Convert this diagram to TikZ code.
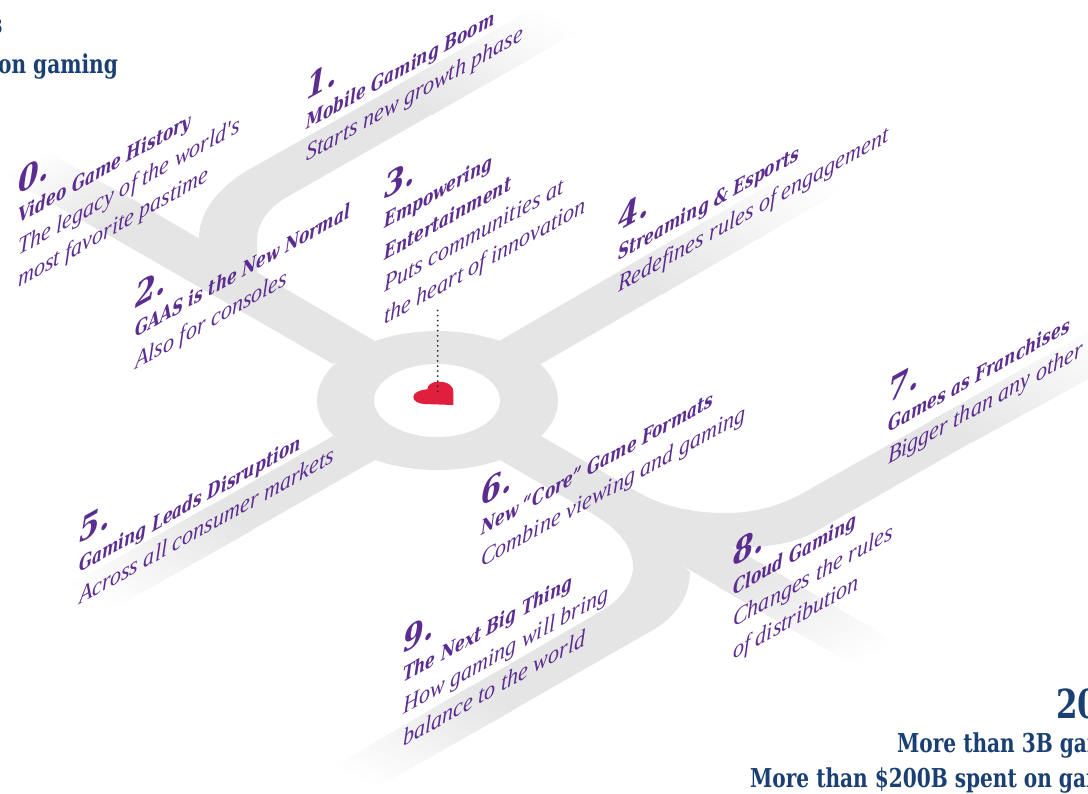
\documentclass[tikz,border=0pt]{standalone}
\usepackage{fontspec}
\usetikzlibrary{calc}
\setmainfont{DejaVu Serif Condensed}
\newfontfamily\slabfont[FakeStretch=0.86]{DejaVu Serif Condensed}
\newfontfamily\lightfont[FakeStretch=0.92]{Liberation Serif}
\definecolor{roadgray}{HTML}{E5E5E5}
\definecolor{itempurple}{HTML}{5C2D91}
\definecolor{titleblue}{HTML}{1A3F73}
\definecolor{heartred}{HTML}{E01F3D}
\newcommand{\numfont}{\rmfamily\fontsize{33bp}{32bp}\selectfont\bfseries\itshape}
\newcommand{\headfont}{\slabfont\fontsize{20bp}{32bp}\selectfont\bfseries\itshape}
\newcommand{\subfont}{\lightfont\fontsize{24bp}{32bp}\selectfont\itshape}
\newcommand{\roadfade}[4]{
\foreach \k in {0,4,...,96} {
\fill [roadgray!\k!white] ($(#1)!\k/100!(#4)$) -- ($(#2)!\k/100!(#3)$) -- (#3) -- (#4) -- cycle;
}}
\tikzset{
  itemtext/.style={cm={1,0.56,0,1,(0,0)},anchor=base west,align=left,inner sep=0pt,text=itempurple,font=\fontsize{20bp}{32bp}\selectfont},
  bluetext/.style={anchor=base west,inner sep=0pt,text=titleblue,font=\slabfont\fontsize{26bp}{26bp}\selectfont\bfseries},
  road/.style={fill=roadgray}
}
\begin{document}
\begin{tikzpicture}
\useasboundingbox (0bp,0bp) rectangle (1088bp,-794bp);
\clip (0bp,0bp) rectangle (1088bp,-794bp);

% fading ends of the roads
\roadfade{43bp,-150bp}{1bp,-174bp}{98bp,-229bp}{140bp,-204bp}
\roadfade{540bp,-5bp}{582bp,-29bp}{432bp,-114.5bp}{390bp,-90bp}
\roadfade{807bp,-163bp}{849bp,-186bp}{662bp,-294bp}{620bp,-271bp}
\roadfade{65bp,-588bp}{107bp,-612bp}{252bp,-530bp}{210bp,-506bp}
\roadfade{900bp,-645bp}{859bp,-668bp}{719bp,-587bp}{760bp,-563bp}
\roadfade{1110bp,-320bp}{1152bp,-344bp}{972bp,-442bp}{930bp,-421.6bp}
\roadfade{330bp,-769bp}{372bp,-790bp}{512bp,-710.5bp}{470bp,-687bp}

% roads
\fill [road] (375bp,-341bp) -- (140bp,-204bp) -- (98bp,-229bp) -- (333bp,-364bp) -- cycle;
\fill [road] (199bp,-238bp) .. controls (199bp,-212bp) and (218bp,-188bp) .. (248bp,-170bp) -- (390bp,-90bp) -- (432bp,-114.5bp) -- (287bp,-197bp) .. controls (268bp,-208bp) and (257bp,-224bp) .. (257bp,-240bp) -- (257bp,-272bp) -- (228bp,-270bp) -- cycle;
\fill [road] (499bp,-341bp) -- (620bp,-271bp) -- (662bp,-294bp) -- (541bp,-364bp) -- cycle;
\fill [road] (333bp,-436bp) -- (210bp,-506bp) -- (252bp,-530bp) -- (375bp,-460bp) -- cycle;
\fill [road] (541bp,-436bp) -- (760bp,-563bp) -- (719bp,-587bp) -- (500bp,-460bp) -- cycle;
\fill [road] (633bp,-490bp) .. controls (665bp,-508bp) and (695bp,-513bp) .. (727bp,-513bp) .. controls (755bp,-513bp) and (782bp,-505bp) .. (803bp,-493bp) -- (930bp,-421.6bp) -- (972bp,-442bp) -- (883bp,-493bp) -- (813bp,-533bp) .. controls (790bp,-545bp) and (760bp,-548bp) .. (733bp,-547bp) -- (690bp,-535bp) -- cycle;
\fill [road] (593bp,-514bp) .. controls (620bp,-530bp) and (633bp,-548bp) .. (633bp,-567bp) .. controls (633bp,-583bp) and (620bp,-600bp) .. (603bp,-610bp) -- (470bp,-687bp) -- (512bp,-710.5bp) -- (653bp,-630bp) .. controls (675bp,-617bp) and (690bp,-597bp) .. (690bp,-572bp) -- (640bp,-530bp) -- cycle;
\fill [road,even odd rule] (437.5bp,-400.5bp) ellipse [x radius=120.5bp,y radius=69.5bp] (437bp,-400.5bp) ellipse [x radius=63bp,y radius=36.5bp];

% heart and its pin
\fill [heartred] (453.3bp,-405bp) -- (453.3bp,-392bp) .. controls (453.3bp,-385bp) and (447bp,-381.7bp) .. (438.3bp,-381.7bp) .. controls (432bp,-381.7bp) and (427.5bp,-385bp) .. (427.3bp,-389.3bp) .. controls (419bp,-390bp) and (413.3bp,-393bp) .. (413.3bp,-397bp) .. controls (413.3bp,-401bp) and (418bp,-403.5bp) .. (424bp,-404bp) -- cycle;
\coordinate (pinTop) at (437.7bp,-310.5bp);
\coordinate (pinEnd) at (437.7bp,-392bp);
\draw [line width=2bp,line cap=round,dash pattern=on 0pt off 5.05bp,black!85] (pinTop) -- (pinEnd);

% items
\node (item0) at (18bp,-288bp)[itemtext] {{\numfont 0.}\\[-3bp]{\headfont Video Game History}\\{\subfont The legacy of the world's}\\{\subfont most favorite pastime}};
\node (item1) at (306bp,-162bp)[itemtext] {{\numfont 1.}\\[-3bp]{\headfont Mobile Gaming Boom}\\{\subfont Starts new growth phase}};
\node (item2) at (135bp,-370bp)[itemtext] {{\numfont 2.}\\[-3bp]{\headfont GAAS is the New Normal}\\{\subfont Also for consoles}};
\node (item3) at (384bp,-325bp)[itemtext] {{\numfont 3.}\\[-3bp]{\headfont Empowering}\\{\headfont Entertainment}\\{\subfont Puts communities at}\\{\subfont the heart of innovation}};
\node (item4) at (618bp,-293bp)[itemtext] {{\numfont 4.}\\[-3bp]{\headfont Streaming \& Esports}\\{\subfont Redefines rules of engagement}};
\node (item5) at (79bp,-605bp)[itemtext] {{\numfont 5.}\\[-3bp]{\headfont Gaming Leads Disruption}\\{\subfont Across all consumer markets}};
\node (item6) at (481bp,-568bp)[itemtext] {{\numfont 6.}\\[-3bp]{\headfont New “Core” Game Formats}\\{\subfont Combine viewing and gaming}};
\node (item7) at (888bp,-465bp)[itemtext] {{\numfont 7.}\\[-3bp]{\headfont Games as Franchises}\\{\subfont Bigger than any other}};
\node (item8) at (733bp,-660bp)[itemtext] {{\numfont 8.}\\[-3bp]{\headfont Cloud Gaming}\\{\subfont Changes the rules}\\{\subfont of distribution}};
\node (item9) at (403bp,-747bp)[itemtext] {{\numfont 9.}\\[-3bp]{\headfont The Next Big Thing}\\{\subfont How gaming will bring}\\{\subfont balance to the world}};

% cropped captions
\node (capS) at (-9bp,-33bp)[bluetext] {s};
\node (capGaming) at (-2bp,-73bp)[bluetext] {on gaming};
\node (capYear) at (1056bp,-718bp)[bluetext,font=\slabfont\fontsize{40bp}{40bp}\selectfont\bfseries] {20};
\node (capPlayers) at (897bp,-752bp)[bluetext] {More than 3B gam};
\node (capSpent) at (750bp,-787bp)[bluetext] {More than \$200B spent on gam};
\end{tikzpicture}
\end{document}
